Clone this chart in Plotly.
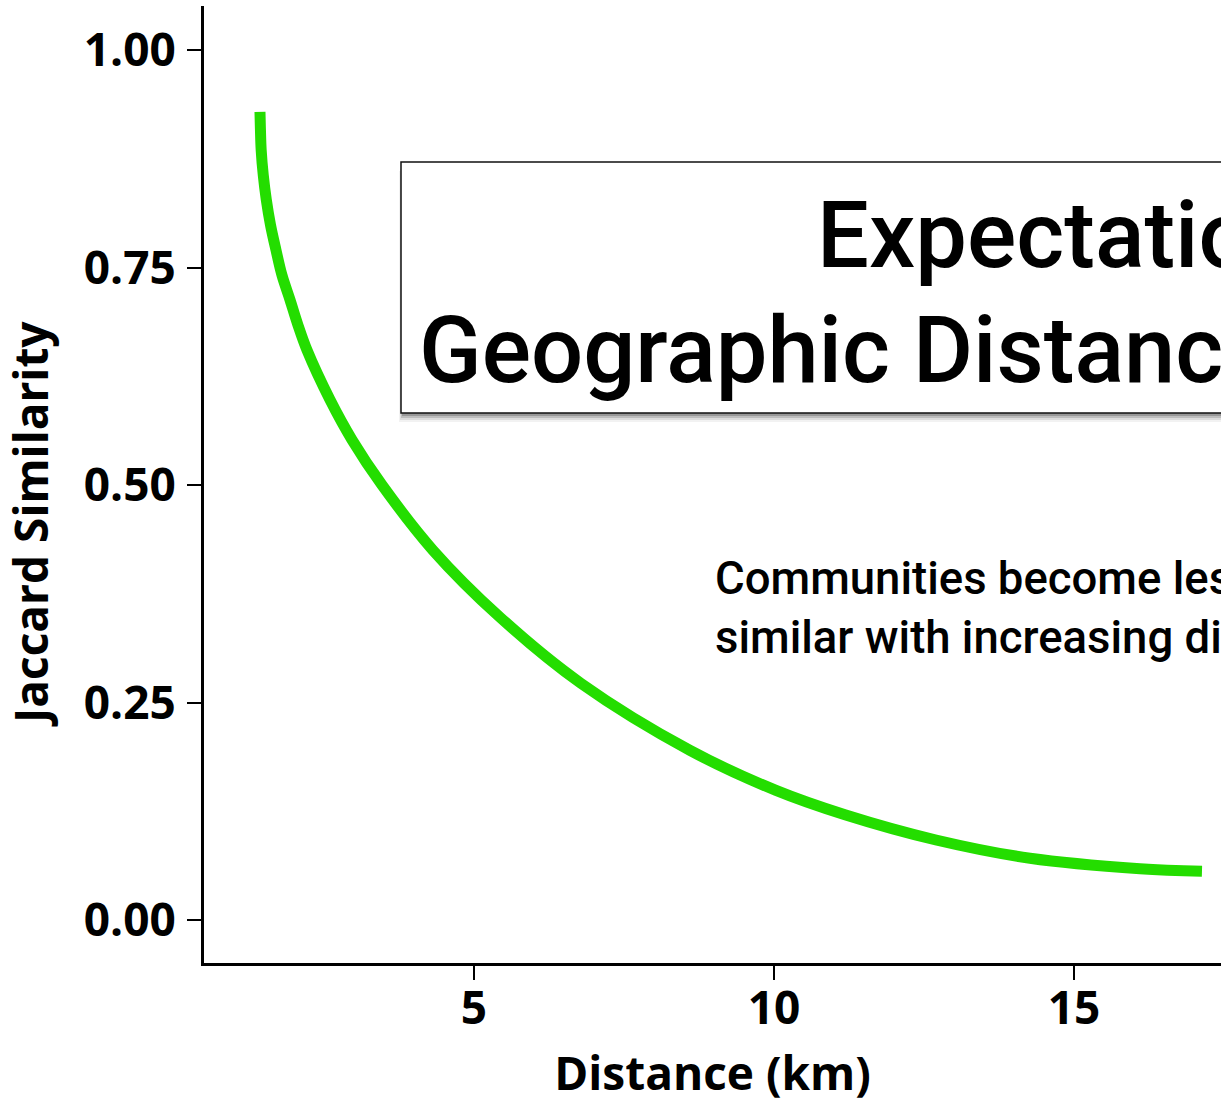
import plotly.graph_objects as go

# Data
distance_km = [1.433, 1.440, 1.453, 1.488, 1.538, 1.608, 1.700, 1.800, 1.933, 2.065, 2.217,
               2.600, 2.967, 3.467, 4.317, 5.433, 6.783, 8.600, 10.033, 11.183, 12.700,
               14.267, 16.100, 17.133]
jaccard = [0.929, 0.910, 0.885, 0.856, 0.828, 0.799, 0.770, 0.741, 0.713, 0.684, 0.655,
           0.598, 0.552, 0.500, 0.425, 0.348, 0.272, 0.195, 0.149, 0.121, 0.092,
           0.071, 0.059, 0.056]

x_ticks = [5, 10, 15]
y_ticks = [0.00, 0.25, 0.50, 0.75, 1.00]

title_line1 = "Expectation"
title_line2 = "Geographic Distance Decay"
note_text = "Communities become less<br>similar with increasing distance"
x_title = "Distance (km)"
y_title = "Jaccard Similarity"

W, H = 1221, 1103
ML, MR, MT, MB = 204, 0, 6, 140
PW = W - ML - MR
PH = H - MT - MB


def px_x(px):
    return (px - ML) / PW


def px_y(py):
    return (H - MB - py) / PH


fig = go.Figure()
fig.add_trace(go.Scatter(
    x=distance_km, y=jaccard, mode="lines",
    line=dict(color="#24DD00", width=11, shape="spline", smoothing=1.0),
    showlegend=False, hoverinfo="skip",
))

axis_font = dict(family="Open Sans, Liberation Sans, sans-serif", size=46, color="black", weight="bold")

fig.update_layout(
    width=W, height=H,
    margin=dict(l=ML, r=MR, t=MT, b=MB, pad=0),
    paper_bgcolor="white", plot_bgcolor="white",
    font=dict(family="Open Sans, sans-serif", color="black"),
    xaxis=dict(
        range=[0.5, 17.45], tickvals=x_ticks, showgrid=False, zeroline=False,
        showline=True, linecolor="black", linewidth=3,
        ticks="outside", ticklen=14, tickwidth=2, tickcolor="black",
        ticklabelstandoff=-11,
        tickfont=dict(family="Open Sans", size=46, color="black", weight="bold"),
        title=dict(text=x_title, font=axis_font, standoff=29),
        automargin=False,
    ),
    yaxis=dict(
        range=[-0.0494, 1.0506], tickvals=y_ticks, tickformat=".2f",
        showgrid=False, zeroline=False,
        showline=True, linecolor="black", linewidth=3,
        ticks="outside", ticklen=14, tickwidth=2, tickcolor="black",
        ticklabelstandoff=2,
        tickfont=dict(family="Open Sans", size=46, color="black", weight="bold"),
        automargin=False,
    ),
)

# y-axis title placed as rotated text to match reference position
fig.add_annotation(text=y_title, textangle=-90, xref="paper", yref="paper",
                   x=px_x(30), y=px_y(524), xanchor="center", yanchor="middle",
                   showarrow=False, font=axis_font)

# Title box with soft shadow
box_l, box_t, box_b = 401, 162, 413
for dx, dy, op in [(-2, 9, 0.05), (-1, 7, 0.09), (0, 5, 0.14), (1, 3, 0.2)]:
    fig.add_shape(type="rect", xref="paper", yref="paper",
                  x0=px_x(box_l + dx), x1=1.6, y0=px_y(box_b + dy), y1=px_y(box_t + dy),
                  line=dict(width=0), fillcolor=f"rgba(0,0,0,{op})", layer="above")
fig.add_shape(type="rect", xref="paper", yref="paper",
              x0=px_x(box_l), x1=1.6, y0=px_y(box_b), y1=px_y(box_t),
              line=dict(color="#111111", width=1.5), fillcolor="white", layer="above")

title_font = dict(family="Roboto, Liberation Sans, Arial, sans-serif", size=92, color="black", weight=500)
fig.add_annotation(text=title_line1, xref="paper", yref="paper",
                   x=px_x(815), y=px_y(236), xanchor="left", yanchor="middle",
                   showarrow=False, font=title_font)
fig.add_annotation(text=title_line2, xref="paper", yref="paper",
                   x=px_x(417), y=px_y(350), xanchor="left", yanchor="middle",
                   showarrow=False, font=title_font)

fig.add_annotation(text=note_text, xref="paper", yref="paper",
                   x=px_x(713), y=px_y(608), xanchor="left", yanchor="middle",
                   align="left", showarrow=False,
                   font=dict(family="Roboto, Liberation Sans, Arial, sans-serif", size=45.5,
                             color="black", weight=500))

fig.write_html("out.html", config={"displayModeBar": False},
               post_script="document.body.style.margin='0';document.body.style.overflow='hidden';")
